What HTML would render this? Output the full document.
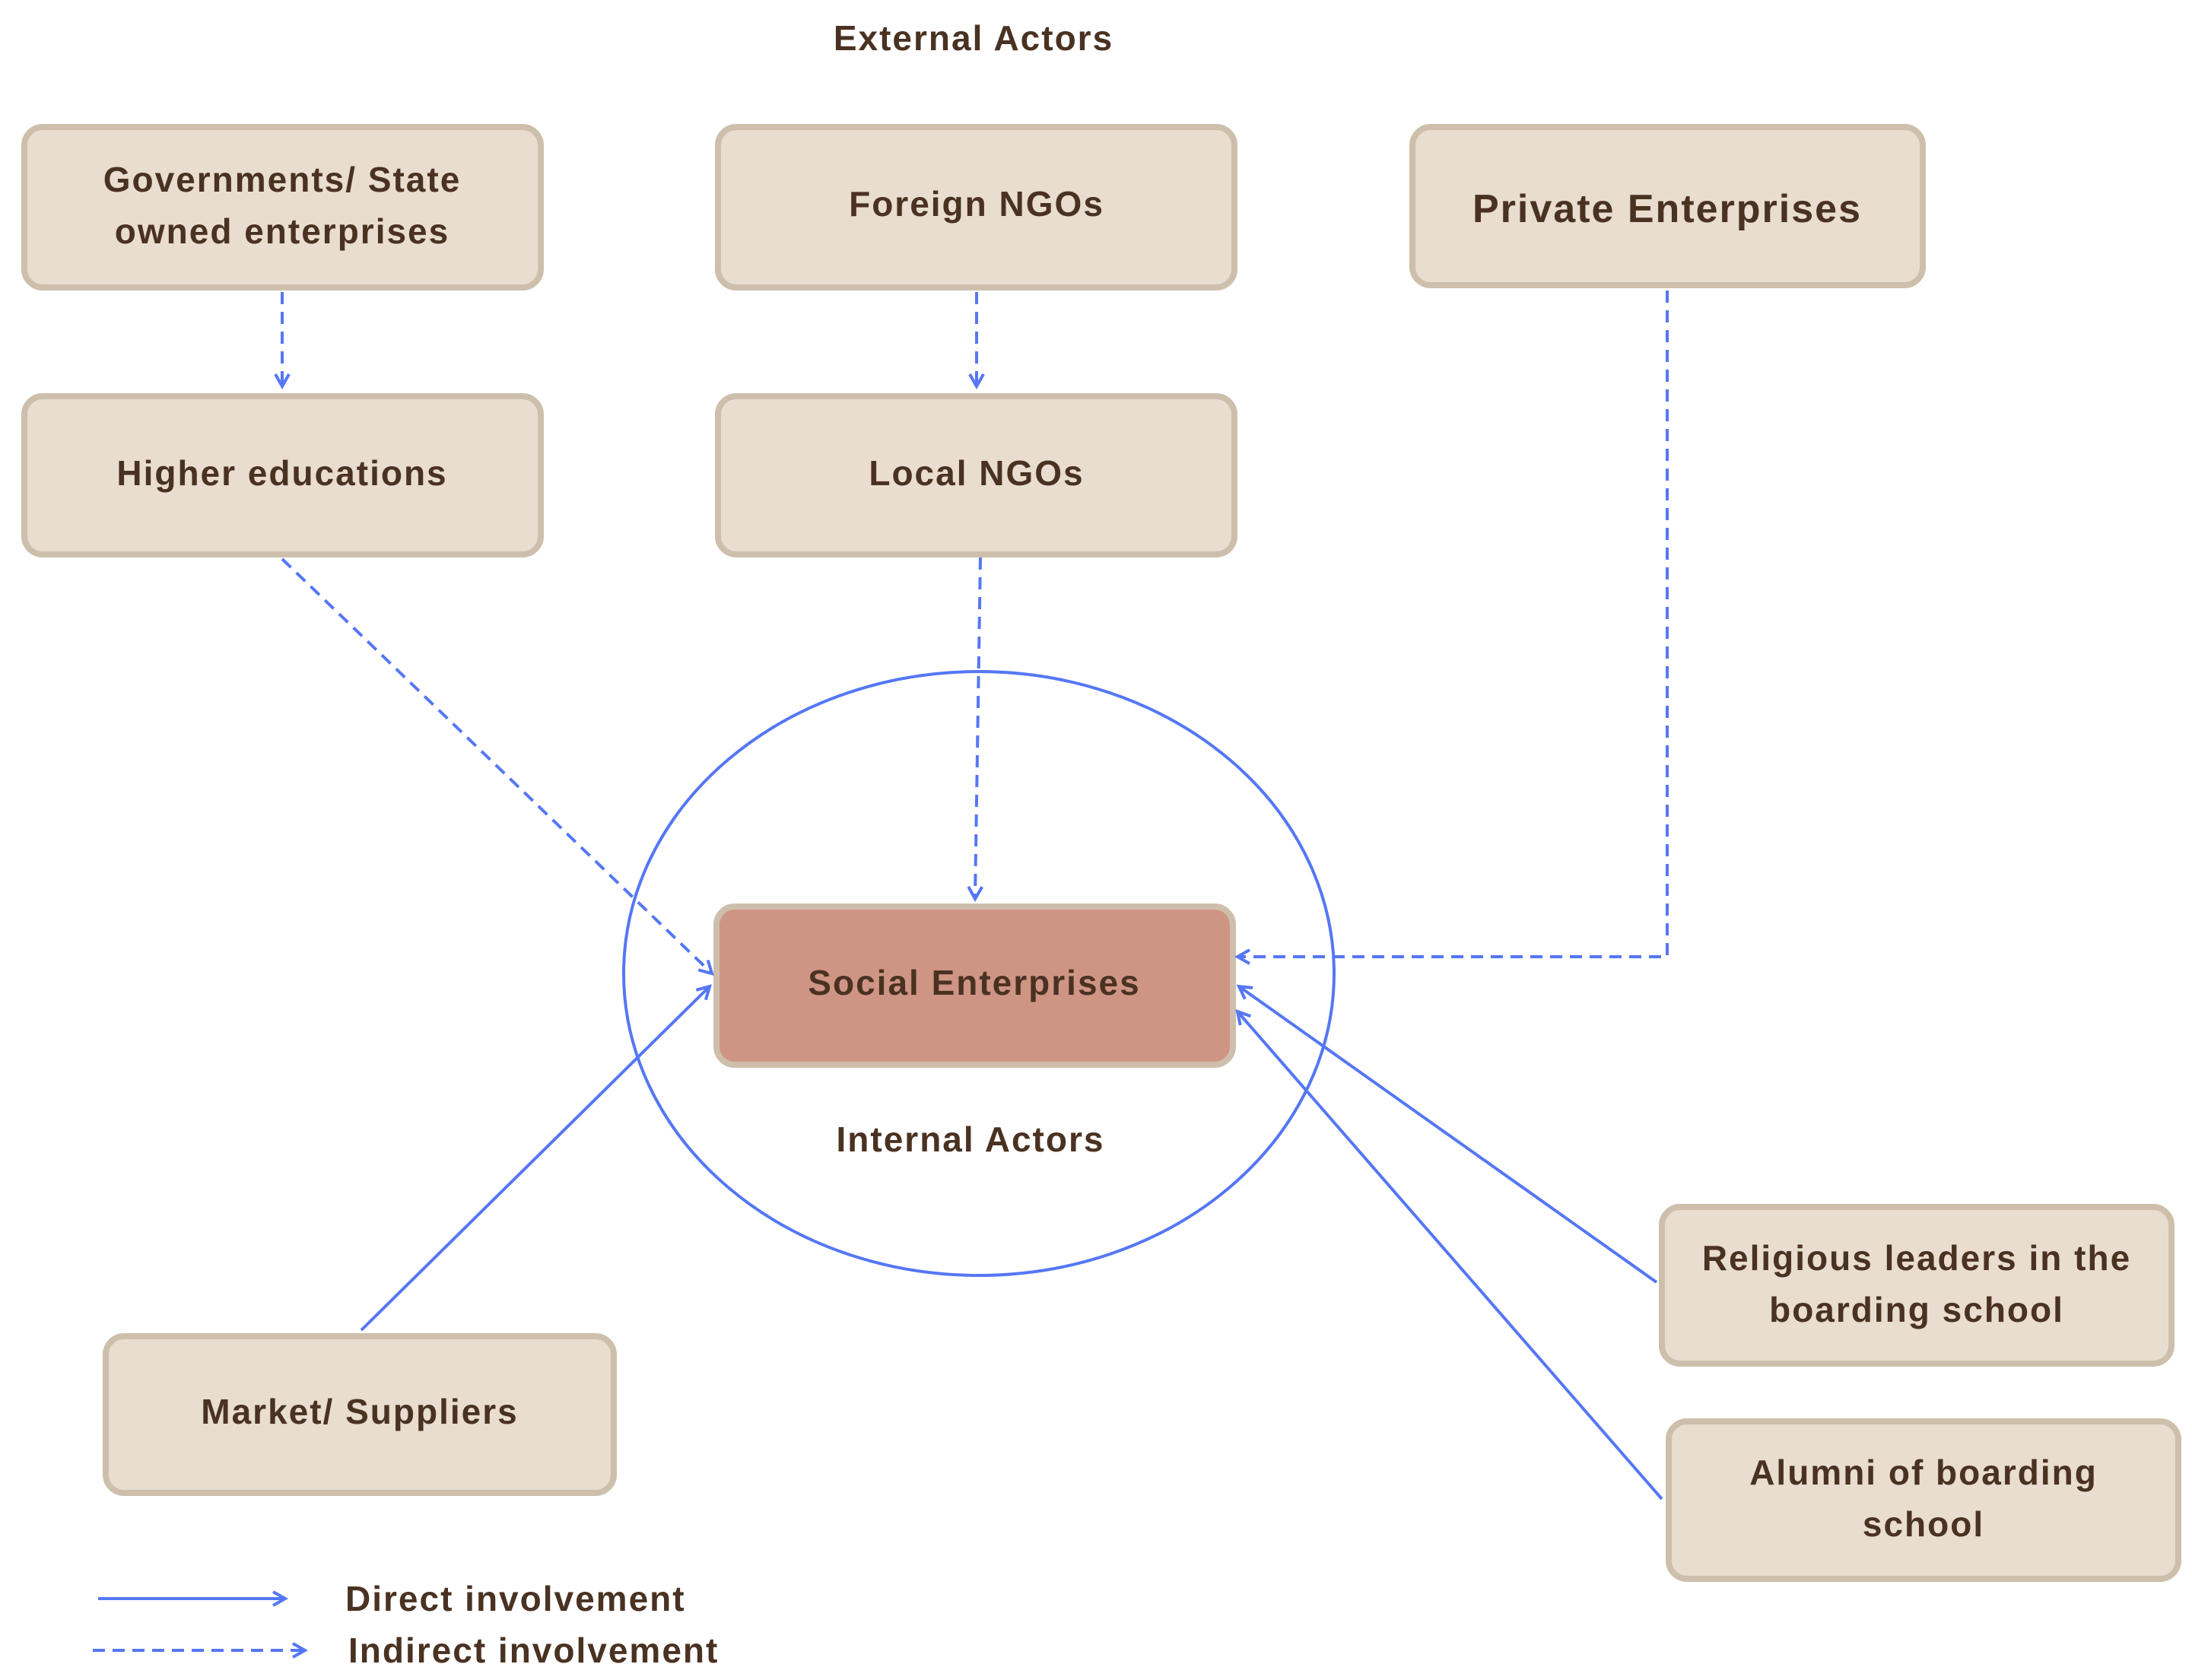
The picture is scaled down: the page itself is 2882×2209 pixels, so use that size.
<!DOCTYPE html>
<html><head><meta charset="utf-8"><style>
html,body{margin:0;padding:0;background:#fff;}
body{width:2882px;height:2204px;overflow:hidden;}
text{font-family:"Liberation Sans",sans-serif;font-weight:bold;fill:#4a3222;}
</style></head><body>
<svg width="2882" height="2204" viewBox="0 0 2882 2204" xmlns="http://www.w3.org/2000/svg">
<defs>
<marker id="a" markerWidth="12" markerHeight="12" refX="10" refY="6" orient="auto" markerUnits="userSpaceOnUse" viewBox="0 0 12 12">
<path d="M1,1 L10,6 L1,11" fill="none" stroke="#5577f5" stroke-width="3"/>
</marker>
<marker id="b" markerWidth="24" markerHeight="24" refX="20" refY="12" orient="auto" markerUnits="userSpaceOnUse" viewBox="0 0 24 24">
<path d="M4,3 L20,12 L4,21" fill="none" stroke="#5577f5" stroke-width="4"/>
</marker>
</defs>
<g fill="#e8ddcf" stroke="#cdbfac" stroke-width="8">
<rect x="32" y="167" width="679" height="211" rx="24"/>
<rect x="944" y="167" width="679" height="211" rx="24"/>
<rect x="1857" y="167" width="671" height="208" rx="24"/>
<rect x="32" y="521" width="679" height="208" rx="24"/>
<rect x="944" y="521" width="679" height="208" rx="24"/>
<rect x="139" y="1757" width="668" height="206" rx="24"/>
<rect x="2185" y="1587" width="670" height="206" rx="24"/>
<rect x="2194" y="1869" width="670" height="207" rx="24"/>
<rect x="942" y="1192" width="679" height="208" rx="24" fill="#cf9584"/>
</g>
<ellipse cx="1287" cy="1280" rx="467" ry="397" fill="none" stroke="#5577f5" stroke-width="4"/>
<g fill="none" stroke="#5577f5" stroke-width="4">
<g stroke-dasharray="16 10">
<line x1="371" y1="384" x2="371" y2="508" marker-end="url(#b)"/>
<line x1="1284" y1="384" x2="1284" y2="508" marker-end="url(#b)"/>
<line x1="371" y1="735" x2="936" y2="1280" marker-end="url(#b)"/>
<line x1="1289" y1="733" x2="1282" y2="1182" marker-end="url(#b)"/>
<polyline points="2192,382 2192,1258 1627,1258" marker-end="url(#b)"/>
<line x1="122" y1="2170" x2="401" y2="2170" marker-end="url(#b)"/>
</g>
<line x1="475" y1="1749" x2="933" y2="1297" marker-end="url(#b)"/>
<line x1="2178" y1="1686" x2="1629" y2="1297" marker-end="url(#b)"/>
<line x1="2185" y1="1971" x2="1627" y2="1330" marker-end="url(#b)"/>
<line x1="129" y1="2102" x2="375" y2="2102" marker-end="url(#b)"/>
</g>
<g font-size="46" text-anchor="middle" letter-spacing="2">
<text x="1280" y="66">External Actors</text>
<text x="371" y="252">Governments/ State</text>
<text x="371" y="320">owned enterprises</text>
<text x="1284" y="284">Foreign NGOs</text>
<text x="2192" y="292" font-size="52">Private Enterprises</text>
<text x="371" y="638">Higher educations</text>
<text x="1284" y="638">Local NGOs</text>
<text x="1281" y="1308">Social Enterprises</text>
<text x="1276" y="1514">Internal Actors</text>
<text x="473" y="1872">Market/ Suppliers</text>
<text x="2520" y="1670">Religious leaders in the</text>
<text x="2520" y="1738">boarding school</text>
<text x="2529" y="1952">Alumni of boarding</text>
<text x="2529" y="2020">school</text>
</g>
<g font-size="46" letter-spacing="2">
<text x="454" y="2118">Direct involvement</text>
<text x="458" y="2186">Indirect involvement</text>
</g>
</svg>
</body></html>
